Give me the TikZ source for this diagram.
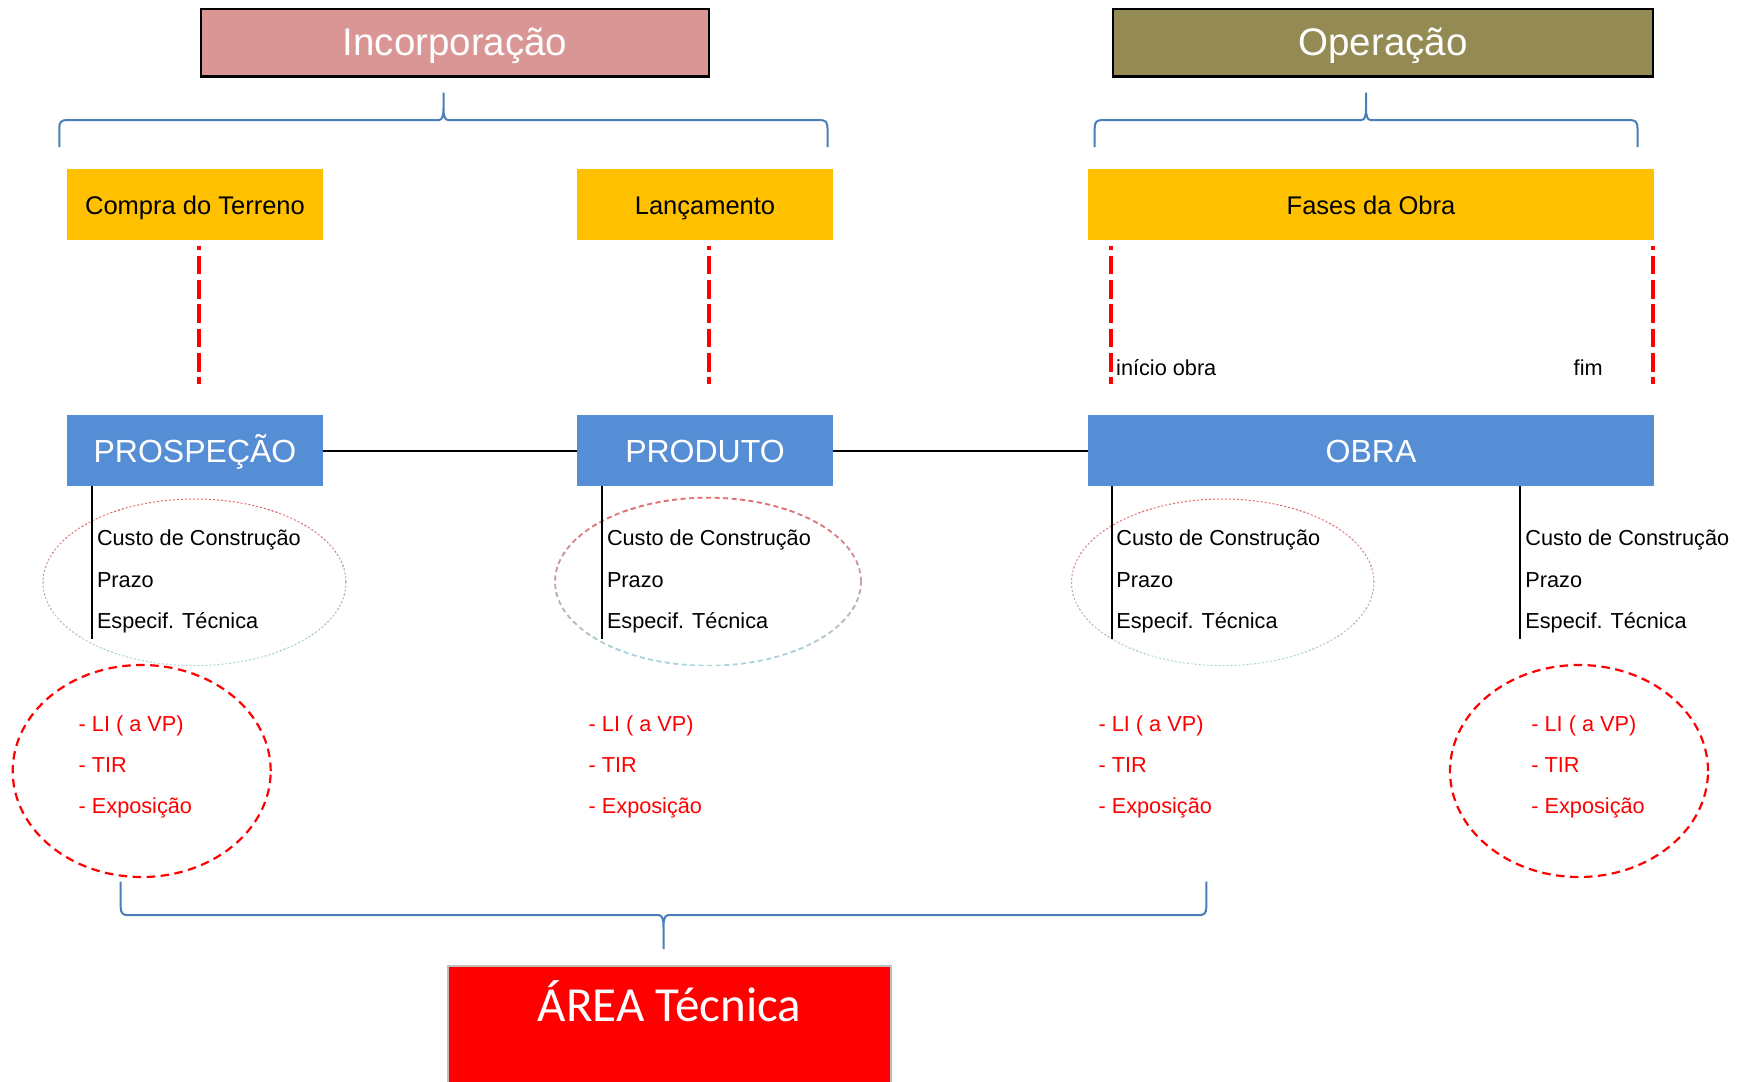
\documentclass[tikz,border=0pt]{standalone}
\usepackage{fontspec}
\setmainfont{Liberation Sans}
\newfontfamily\calibrifont{Carlito}
\definecolor{pinkc}{HTML}{D99694}
\definecolor{olivec}{HTML}{948A54}
\definecolor{goldc}{HTML}{FFC000}
\definecolor{bluec}{HTML}{558ED5}
\definecolor{bracec}{HTML}{4A7EBB}
\definecolor{ellred}{HTML}{E46C6C}
\definecolor{ellblue}{HTML}{A9D4DC}
\definecolor{areaborder}{HTML}{BFBFBF}
\newcommand\mybrace[6]{%
  \pgfmathsetmacro\bs{sign(#4-#5)}%
  \pgfmathsetmacro\ya{#5+8*\bs}%
  \pgfmathsetmacro\yb{#5+2*\bs}%
  \pgfmathsetmacro\yc{#5-5*\bs}%
  \pgfmathsetmacro\yd{#5-12*\bs}%
  \draw[bracestyle] (#1,#4) -- (#1,\ya) .. controls (#1,\yb) and (#1+2,#5) .. (#1+8,#5)
    -- (#2-4.5,#5) .. controls (#2-1,#5) and (#2,\yc) .. (#2,\yd) -- (#2,#6)
    -- (#2,\yd) .. controls (#2,\yc) and (#2+1,#5) .. (#2+4.5,#5)
    -- (#3-8,#5) .. controls (#3-2,#5) and (#3,\yb) .. (#3,\ya) -- (#3,#4);
}
\newcommand\gradell[5]{%
  \foreach \k in {0,...,11} {%
    \pgfmathtruncatemacro\p{100-100*\k/11}%
    \begin{scope}
      \clip (#1-#3-6, #2-#4-3+\k*#4/6) rectangle (#1+#3+6, #2-#4+\k*#4/6+#4/6+0.01);
      \draw[#5, color=ellred!\p!ellblue] (#1,#2) ellipse [x radius=#3pt, y radius=#4pt];
    \end{scope}
  }%
}
\begin{document}
\begin{tikzpicture}[x=1pt,y=-1pt,
  titlebox/.style={draw=black, line width=2.5pt, text=white, font=\fontsize{38.5}{44}\selectfont, inner sep=0pt, outer sep=0pt, text height=25.9pt, text depth=0pt, minimum height=67.4pt},
  goldbox/.style={fill=goldc, text=black, font=\fontsize{25.5}{30}\selectfont, minimum height=71pt, inner sep=0pt, outer sep=0pt, text height=19pt, text depth=0pt},
  bluebox/.style={fill=bluec, text=white, font=\fontsize{32}{38}\selectfont, minimum height=71pt, inner sep=0pt, outer sep=0pt, text height=23pt, text depth=0pt},
  bodytxt/.style={anchor=base west, inner sep=0pt, font=\fontsize{21.7}{26}\selectfont},
  redtxt/.style={bodytxt, text=red},
  conn/.style={draw=black, line width=2pt},
  vline/.style={draw=black, line width=2pt},
  reddash/.style={draw=red, line width=4pt, dash pattern=on 18.6pt off 5.7pt, dash phase=14.6pt},
  redcirc/.style={draw=red, line width=2.2pt, dash pattern=on 8.5pt off 5.5pt},
  bracestyle/.style={draw=bracec, line width=2pt},
  dotell/.style={line width=1pt, dash pattern=on 2pt off 2pt},
  dashell/.style={line width=1.8pt, dash pattern=on 5pt off 3.5pt},
]
\fill[white] (0,0) rectangle (1739,1081);
\useasboundingbox (0,0) rectangle (1739,1081);

% top titles
\node[titlebox, fill=pinkc, minimum width=508pt] (inc) at (455,42.55) {Incorporação};
\node[titlebox, fill=olivec, minimum width=540pt] (op) at (1383,42.55) {Operação};

% braces
\mybrace{59.3}{443.5}{827.5}{147}{120}{92.7}
\mybrace{1094.7}{1366}{1637.5}{147}{120}{92.7}
\mybrace{120.7}{663.5}{1206.3}{881.5}{915.2}{949}

% yellow boxes
\node[goldbox, minimum width=256pt] (compra) at (195,204.5) {Compra do Terreno};
\node[goldbox, minimum width=256pt] (lanc) at (705,204.5) {Lançamento};
\node[goldbox, minimum width=566pt] (fases) at (1371,204.5) {Fases da Obra};

% red dashed markers
\draw[reddash] ([xshift=4pt,yshift=-6pt]compra.south) -- ++(0,138);
\draw[reddash] ([xshift=4pt,yshift=-6pt]lanc.south) -- ++(0,138);
\draw[reddash] ([xshift=23pt,yshift=-6pt]fases.south west) -- ++(0,138);
\draw[reddash] ([xshift=-1pt,yshift=-6pt]fases.south east) -- ++(0,138);
\node[bodytxt] (inicio) at (1116,375.5) {início obra};
\node[bodytxt] (fim) at (1573.5,375.5) {fim};

% blue boxes
\node[bluebox, minimum width=256pt] (prosp) at (195,450.5) {PROSPEÇÃO};
\node[bluebox, minimum width=256pt] (prod) at (705,450.5) {PRODUTO};
\node[bluebox, minimum width=566pt] (obra) at (1371,450.5) {OBRA};
\draw[conn] (prosp.east) -- (prod.west);
\draw[conn] (prod.east) -- (obra.west);

% gradient ellipses
\gradell{194.5}{582.3}{151.5}{83.3}{dotell}
\gradell{708}{581.7}{153}{84}{dashell}
\gradell{1222.7}{582.3}{151.2}{83.3}{dotell}

% vertical lines
\draw[vline] ([xshift=24.7pt]prosp.south west) -- ++(0,152.5);
\draw[vline] ([xshift=24.7pt]prod.south west) -- ++(0,152.5);
\draw[vline] ([xshift=24pt]obra.south west) -- ++(0,152.5);
\draw[vline] ([xshift=432.4pt]obra.south west) -- ++(0,152.5);

% black lists
\foreach \x/\n in {96.8/a,606.8/b,1116.2/c,1525.2/d}{
  \node[bodytxt] (cc\n) at (\x,545.5) {Custo de Construção};
  \node[bodytxt] (pz\n) at (\x,587.2) {Prazo};
  \node[bodytxt] (es\n) at (\x,628.9) {Especif. Técnica};
}
% red lists
\foreach \x/\n in {78.5/a,588.5/b,1098.4/c,1531.2/d}{
  \node[redtxt] (li\n) at (\x,731) {- LI ( a VP)};
  \node[redtxt] (tir\n) at (\x,772.3) {- TIR};
  \node[redtxt] (ex\n) at (\x,813.6) {- Exposição};
}

% red dashed circles
\draw[redcirc] (141.7,771) ellipse [x radius=129pt, y radius=106pt];
\draw[redcirc] (1579,771) ellipse [x radius=129pt, y radius=106pt];

% area tecnica
\node[draw=areaborder, line width=2pt, fill=red, minimum width=443pt, minimum height=156pt, inner sep=0pt, outer sep=0pt] (area) at (669.5,1044) {};
\node[anchor=base, inner sep=0pt, text=white, font=\calibrifont\fontsize{49}{58}\selectfont] (areatxt) at (669.5,1021.5) {ÁREA Técnica};
\end{tikzpicture}
\end{document}
